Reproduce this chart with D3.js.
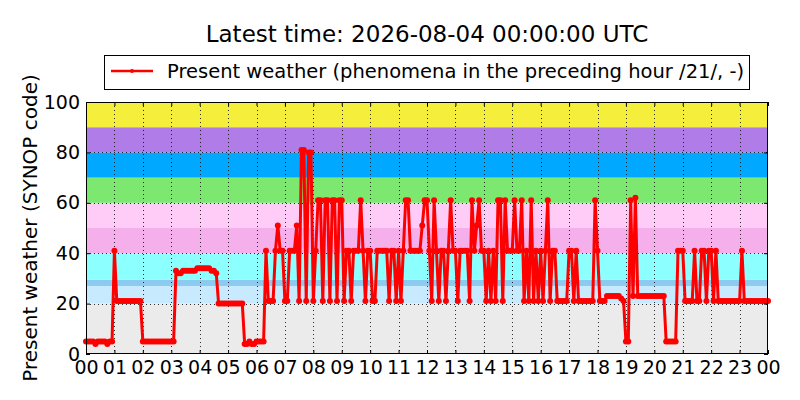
<!DOCTYPE html>
<html>
    <script src="https://d3js.org/d3.v7.min.js"></script>
    <head>
        <style>
            body { margin: 0; background: #fff; }
            text { font-family: "DejaVu Sans", sans-serif; fill: #000; }
        </style>
    </head>
    <body>
        <svg id="chart"></svg>

        <script>
            // 5-minute readings, 2026-08-03 00:00 to 2026-08-04 00:00 UTC (one row per hour)
            const startTime = "2026-08-03T00:00:00Z";
            const endTime = "2026-08-04T00:00:00Z";
            const stepMinutes = 5;
            const presentWeather = [
                5, 5, 5, 5, 4, 5, 5, 5, 5, 4, 5, 5,                // 00
                41, 21, 21, 21, 21, 21, 21, 21, 21, 21, 21, 21,    // 01
                5, 5, 5, 5, 5, 5, 5, 5, 5, 5, 5, 5,                // 02
                5, 5, 33, 32, 32, 33, 33, 33, 33, 33, 33, 34,      // 03
                34, 34, 34, 34, 34, 33, 33, 32, 20, 20, 20, 20,    // 04
                20, 20, 20, 20, 20, 20, 20, 4, 4, 5, 4, 4,         // 05
                5, 5, 5, 5, 41, 21, 21, 21, 41, 51, 41, 41,        // 06
                21, 21, 41, 41, 41, 51, 21, 81, 81, 21, 80, 80,    // 07
                21, 41, 61, 61, 21, 61, 61, 21, 61, 61, 21, 61,    // 08
                61, 21, 41, 41, 21, 41, 41, 41, 61, 41, 21, 41,    // 09
                41, 21, 21, 41, 41, 41, 41, 41, 21, 41, 41, 21,    // 10
                41, 21, 41, 61, 61, 41, 41, 41, 41, 41, 51, 61,    // 11
                61, 41, 21, 61, 41, 21, 41, 41, 21, 41, 61, 41,    // 12
                41, 21, 41, 41, 41, 41, 21, 61, 41, 51, 61, 41,    // 13
                41, 21, 41, 21, 41, 21, 61, 61, 21, 61, 41, 41,    // 14
                41, 61, 41, 41, 61, 21, 41, 21, 61, 21, 41, 21,    // 15
                41, 21, 41, 61, 21, 41, 41, 21, 21, 21, 21, 21,    // 16
                41, 41, 21, 41, 21, 21, 21, 21, 21, 21, 21, 61,    // 17
                41, 21, 21, 21, 23, 23, 23, 23, 23, 23, 22, 21,    // 18
                5, 5, 61, 23, 62, 23, 23, 23, 23, 23, 23, 23,      // 19
                23, 23, 23, 23, 23, 5, 5, 5, 5, 5, 41, 41,         // 20
                41, 21, 21, 21, 21, 41, 21, 21, 41, 41, 21, 41,    // 21
                41, 21, 41, 21, 21, 21, 21, 21, 21, 21, 21, 21,    // 22
                21, 41, 21, 21, 21, 21, 21, 21, 21, 21, 21, 21,    // 23
                21                                                  // 24
            ];

            const yTicks = [0, 20, 40, 60, 80, 100];
            const hourLabels = ["00","01","02","03","04","05","06","07","08","09","10","11",
                                "12","13","14","15","16","17","18","19","20","21","22","23","00"];

            // SYNOP code ranges behind the plot
            const bandFrom = [0, 20, 27, 29.5, 40, 50, 60, 70, 80, 90];
            const bandTo   = [20, 27, 29.5, 40, 50, 60, 70, 80, 90, 100];
            const bandColors = ["#ebebeb", "#c8eaff", "#8ccaf2", "#8cffff", "#f5b0ec",
                                "#ffccf7", "#7ce870", "#00a8ff", "#b07de8", "#f5ef3c"];

            const titleText = "Latest time: 2026-08-04 00:00:00 UTC";
            const legendText = "Present weather (phenomena in the preceding hour /21/, -)";
            const yLabelText = "Present weather (SYNOP code)";

            const width = 800;
            const height = 400;
            const margin = { top: 102, right: 32, bottom: 46, left: 86 };

            const t0 = new Date(startTime);
            const data = presentWeather.map((v, i) => ({
                t: d3.utcMinute.offset(t0, i * stepMinutes),
                v: v
            }));

            const x_scale = d3.scaleUtc()
                .domain([t0, new Date(endTime)])
                .range([margin.left, width - margin.right]);
            const y_scale = d3.scaleLinear()
                .domain([0, 100])
                .range([height - margin.bottom, margin.top]);

            const hourTicks = d3.utcHour.range(t0, d3.utcHour.offset(new Date(endTime), 1));

            const svg = d3.select("#chart")
                .attr("viewBox", [0, 0, width, height])
                .attr("width", width)
                .attr("height", height);

            // colour bands
            svg.append("g")
                .selectAll("rect")
                .data(bandFrom)
                .join("rect")
                .attr("x", margin.left)
                .attr("width", width - margin.left - margin.right)
                .attr("y", (d, i) => y_scale(bandTo[i]))
                .attr("height", (d, i) => y_scale(d) - y_scale(bandTo[i]))
                .attr("fill", (d, i) => bandColors[i]);

            // dotted grid
            const grid = svg.append("g")
                .attr("stroke", "#000")
                .attr("stroke-width", 0.8)
                .attr("stroke-dasharray", "1,3")
                .attr("shape-rendering", "crispEdges");
            grid.selectAll("line.gx")
                .data(hourTicks.slice(1, -1))
                .join("line")
                .attr("class", "gx")
                .attr("x1", (d) => Math.round(x_scale(d)) + 0.5)
                .attr("x2", (d) => Math.round(x_scale(d)) + 0.5)
                .attr("y1", margin.top)
                .attr("y2", height - margin.bottom);
            grid.selectAll("line.gy")
                .data(yTicks.slice(1, -1))
                .join("line")
                .attr("class", "gy")
                .attr("x1", margin.left)
                .attr("x2", width - margin.right)
                .attr("y1", (d) => Math.round(y_scale(d)) + 0.5)
                .attr("y2", (d) => Math.round(y_scale(d)) + 0.5);

            // series
            const line = d3.line()
                .x((d) => x_scale(d.t))
                .y((d) => y_scale(d.v));

            svg.append("path")
                .datum(data)
                .attr("fill", "none")
                .attr("stroke", "#ff0000")
                .attr("stroke-width", 3)
                .attr("stroke-linejoin", "round")
                .attr("d", line);

            svg.append("g")
                .attr("fill", "#ff0000")
                .selectAll("circle")
                .data(data)
                .join("circle")
                .attr("cx", (d) => x_scale(d.t))
                .attr("cy", (d) => y_scale(d.v))
                .attr("r", 3);

            // axes, ticks pointing inward on all four sides
            const x_axis = d3.axisBottom(x_scale)
                .tickValues(hourTicks)
                .tickFormat((d, i) => hourLabels[i])
                .tickSize(-4)
                .tickPadding(7);
            const y_axis = d3.axisLeft(y_scale)
                .tickValues(yTicks)
                .tickSize(-4)
                .tickPadding(6);

            const gx = svg.append("g")
                .attr("transform", `translate(0,${height - margin.bottom})`)
                .call(x_axis);
            const gy = svg.append("g")
                .attr("transform", `translate(${margin.left},0)`)
                .call(y_axis);
            const gxTop = svg.append("g")
                .attr("transform", `translate(0,${margin.top})`)
                .call(d3.axisTop(x_scale).tickValues(hourTicks).tickFormat("").tickSize(-4));
            const gyRight = svg.append("g")
                .attr("transform", `translate(${width - margin.right},0)`)
                .call(d3.axisRight(y_scale).tickValues(yTicks).tickFormat("").tickSize(-4));

            [gx, gy, gxTop, gyRight].forEach((g) => {
                g.select(".domain").remove();
                g.selectAll("line").attr("stroke", "#000").attr("stroke-width", 1);
                g.selectAll("text")
                    .attr("font-family", "DejaVu Sans")
                    .attr("font-size", 19)
                    .attr("fill", "#000");
            });

            // frame
            svg.append("rect")
                .attr("x", margin.left + 0.5)
                .attr("y", margin.top + 0.5)
                .attr("width", width - margin.left - margin.right - 1)
                .attr("height", height - margin.top - margin.bottom - 1)
                .attr("fill", "none")
                .attr("stroke", "#000")
                .attr("stroke-width", 1);

            // title
            svg.append("text")
                .attr("x", (margin.left + width - margin.right) / 2)
                .attr("y", 42)
                .attr("text-anchor", "middle")
                .attr("font-size", 23)
                .text(titleText);

            // y label
            svg.append("text")
                .attr("transform", `translate(37,${(margin.top + height - margin.bottom) / 2}) rotate(-90)`)
                .attr("text-anchor", "middle")
                .attr("font-size", 20)
                .text(yLabelText);

            // legend
            const legend = svg.append("g");
            legend.append("rect")
                .attr("x", 104.5)
                .attr("y", 55.5)
                .attr("width", 645)
                .attr("height", 34)
                .attr("fill", "#fff")
                .attr("stroke", "#000");
            legend.append("line")
                .attr("x1", 111)
                .attr("x2", 153)
                .attr("y1", 71)
                .attr("y2", 71)
                .attr("stroke", "#ff0000")
                .attr("stroke-width", 2.5);
            legend.append("circle")
                .attr("cx", 132)
                .attr("cy", 71)
                .attr("r", 2)
                .attr("fill", "#ff0000");
            legend.append("text")
                .attr("x", 167)
                .attr("y", 78)
                .attr("font-size", 19.5)
                .text(legendText);
        </script>
    </body>
</html>
